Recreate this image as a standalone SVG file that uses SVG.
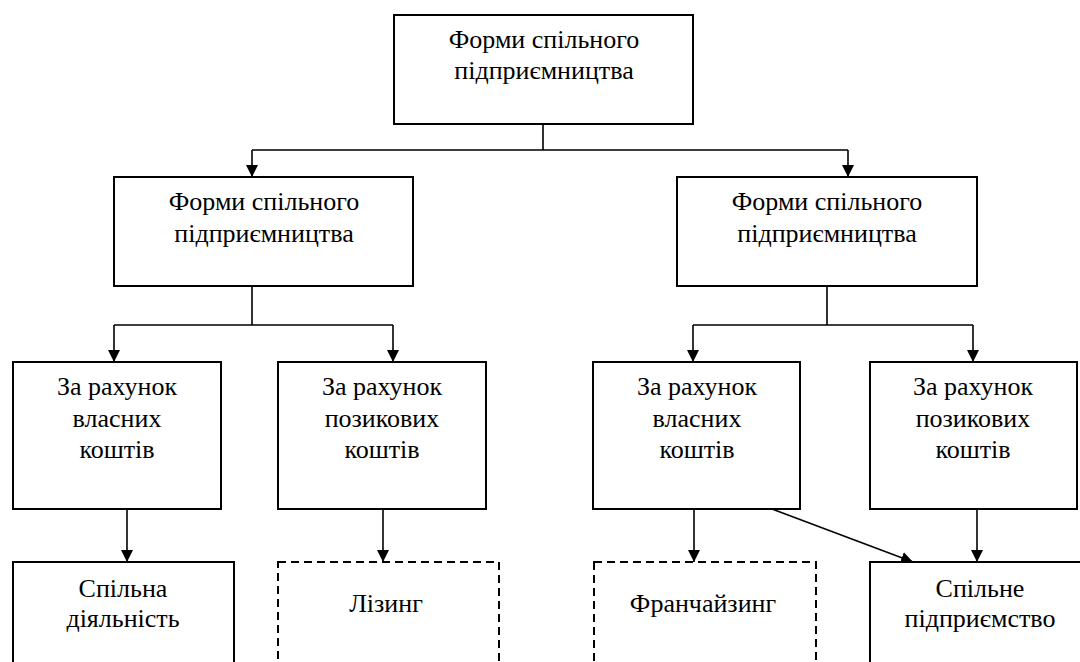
<svg xmlns="http://www.w3.org/2000/svg" width="1080" height="662" viewBox="0 0 1080 662">
<style>
.box{fill:#fff;stroke:#000;stroke-width:2}
.dash{fill:#fff;stroke:#000;stroke-width:2;stroke-dasharray:8 5}
.ln{fill:none;stroke:#000;stroke-width:1.6}
.t{font-family:'Liberation Serif','DejaVu Serif',Tinos,serif;font-size:26px;fill:#000;text-anchor:middle}
</style>
<defs>
<marker id="ah" viewBox="0 0 12 14" refX="12" refY="6" markerWidth="12" markerHeight="14" markerUnits="userSpaceOnUse" orient="auto">
<path d="M0,0 L12,6 L0,12 Z" fill="#000"/>
</marker>
</defs>
<g id="connectors">
<path class="ln" d="M543,124 V150 M252,150 H848"/>
<path class="ln" d="M252,150 V177" marker-end="url(#ah)"/>
<path class="ln" d="M848,150 V177" marker-end="url(#ah)"/>
<path class="ln" d="M252,286 V325 M114,325 H393"/>
<path class="ln" d="M114,325 V362" marker-end="url(#ah)"/>
<path class="ln" d="M393,325 V362" marker-end="url(#ah)"/>
<path class="ln" d="M827,286 V325 M693,325 H973"/>
<path class="ln" d="M693,325 V362" marker-end="url(#ah)"/>
<path class="ln" d="M973,325 V362" marker-end="url(#ah)"/>
<path class="ln" d="M127,509 V562" marker-end="url(#ah)"/>
<path class="ln" d="M383,509 V562" marker-end="url(#ah)"/>
<path class="ln" d="M694,509 V562" marker-end="url(#ah)"/>
<path class="ln" d="M977,509 V562" marker-end="url(#ah)"/>
<path class="ln" d="M772,509 L913,562" marker-end="url(#ah)"/>
</g>
<g id="root">
<rect class="box" x="394" y="15" width="299" height="109"/>
<text class="t" x="544" y="48">Форми спільного</text>
<text class="t" x="544" y="79">підприємництва</text>
</g>
<g id="forms-left">
<rect class="box" x="114" y="177" width="299" height="109"/>
<text class="t" x="264" y="210">Форми спільного</text>
<text class="t" x="264" y="242">підприємництва</text>
</g>
<g id="forms-right">
<rect class="box" x="677" y="177" width="300" height="109"/>
<text class="t" x="827" y="210">Форми спільного</text>
<text class="t" x="827" y="242">підприємництва</text>
</g>
<g id="own-left">
<rect class="box" x="13" y="362" width="208" height="147"/>
<text class="t" x="117" y="395">За рахунок</text>
<text class="t" x="117" y="427">власних</text>
<text class="t" x="117" y="458">коштів</text>
</g>
<g id="loan-left">
<rect class="box" x="278" y="362" width="208" height="147"/>
<text class="t" x="382" y="395">За рахунок</text>
<text class="t" x="382" y="427">позикових</text>
<text class="t" x="382" y="458">коштів</text>
</g>
<g id="own-right">
<rect class="box" x="593" y="362" width="207" height="147"/>
<text class="t" x="697" y="395">За рахунок</text>
<text class="t" x="697" y="427">власних</text>
<text class="t" x="697" y="458">коштів</text>
</g>
<g id="loan-right">
<rect class="box" x="870" y="362" width="207" height="147"/>
<text class="t" x="973" y="395">За рахунок</text>
<text class="t" x="973" y="427">позикових</text>
<text class="t" x="973" y="458">коштів</text>
</g>
<g id="joint-activity">
<rect class="box" x="13" y="562" width="221" height="120"/>
<text class="t" x="123" y="597">Спільна</text>
<text class="t" x="123" y="627">діяльність</text>
</g>
<g id="leasing">
<rect class="dash" x="278" y="562" width="221" height="120"/>
<text class="t" x="386" y="612">Лізинг</text>
</g>
<g id="franchising">
<rect class="dash" x="594" y="562" width="222" height="120"/>
<text class="t" x="703" y="612">Франчайзинг</text>
</g>
<g id="joint-venture">
<rect class="box" x="870" y="562" width="230" height="120"/>
<text class="t" x="980" y="597">Спільне</text>
<text class="t" x="980" y="627">підприємство</text>
</g>
</svg>
